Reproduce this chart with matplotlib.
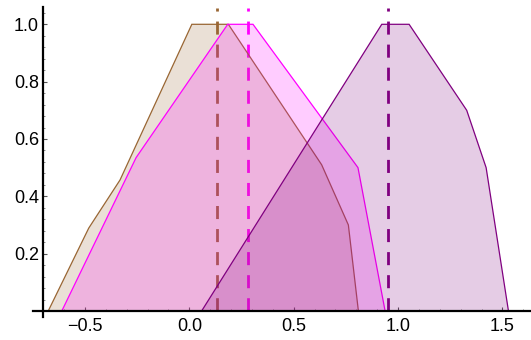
import numpy as np
import matplotlib
matplotlib.use('Agg')
import matplotlib.pyplot as plt
from matplotlib.ticker import MultipleLocator

# membership polygons
brown_x = [-0.676, -0.482, -0.332, 0.012, 0.187, 0.634, 0.762, 0.81]
brown_y = [0.0, 0.289, 0.457, 1.0, 1.0, 0.51, 0.30, 0.0]

magenta_x = [-0.611, -0.255, 0.184, 0.305, 0.808, 0.938]
magenta_y = [0.0, 0.535, 1.0, 1.0, 0.50, 0.0]

purple_x = [0.059, 0.922, 1.053, 1.329, 1.422, 1.529]
purple_y = [0.0, 1.0, 1.0, 0.70, 0.50, 0.0]

# dashed centre lines
centres = [0.131, 0.283, 0.951]

x_ticks = [-0.5, 0.0, 0.5, 1.0, 1.5]
y_ticks = [0.2, 0.4, 0.6, 0.8, 1.0]

brown = (0.6, 0.4, 0.2)
magenta = (1.0, 0.0, 1.0)
purple = (0.5, 0.0, 0.5)

plt.rcParams['font.family'] = ['Liberation Sans', 'DejaVu Sans']
plt.rcParams['lines.scale_dashes'] = False

fig = plt.figure(figsize=(5.31, 3.40), dpi=100)
ax = fig.add_axes([33 / 531, (340 - 316.7) / 340, 498 / 531, (316.7 - 7.1) / 340])
ax.set_xlim(-0.749, 1.637)
ax.set_ylim(-0.02, 1.06)

# dashed lines sit under the fills
for c, col in zip(centres, [brown, magenta, purple]):
    ax.plot([c, c], [1.056, 0], color=col, lw=2.0, solid_capstyle='butt',
            dash_capstyle='butt', linestyle=(7.2, (9.4, 7.2)), zorder=1)

for xs, ys, col, z in [(brown_x, brown_y, brown, 2),
                       (magenta_x, magenta_y, magenta, 3),
                       (purple_x, purple_y, purple, 4)]:
    ax.fill(xs, ys, facecolor=col + (0.2,), edgecolor=col, lw=0.9, zorder=z)

for s in ['top', 'right']:
    ax.spines[s].set_visible(False)
ax.spines['left'].set_position(('data', -0.7))
ax.spines['bottom'].set_position(('data', 0))
for s in ['left', 'bottom']:
    ax.spines[s].set_linewidth(1.6)
    ax.spines[s].set_color('black')
    ax.spines[s].set_zorder(6)

ax.set_xticks(x_ticks, [f'{v:.1f}'.replace('-', '\u2212') for v in x_ticks])
ax.set_yticks(y_ticks, [f'{v:.1f}' for v in y_ticks])
ax.xaxis.set_minor_locator(MultipleLocator(0.1))
ax.yaxis.set_minor_locator(MultipleLocator(0.04))
ax.tick_params(which='major', direction='in', length=3.2, width=0.8, color='#555555',
               labelsize=13, labelcolor='black')
ax.tick_params(which='minor', direction='in', length=1.6, width=0.6, color='#777777')
ax.tick_params(axis='x', which='major', pad=5)
ax.tick_params(axis='y', which='major', pad=3)

fig.savefig('out.png', dpi=100)
